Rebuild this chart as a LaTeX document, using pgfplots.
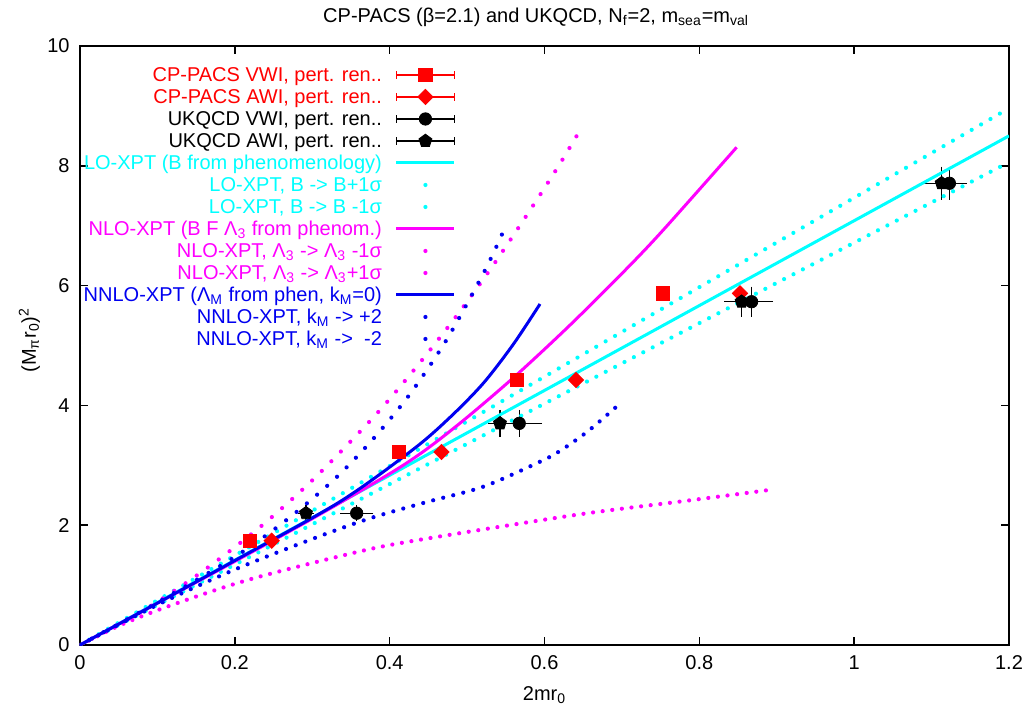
\documentclass[border=0pt]{standalone}
\usepackage{fontspec}
\setmainfont{Liberation Sans}
\usepackage{pgfplots}
\pgfplotsset{compat=1.18}
\usetikzlibrary{plotmarks}
\definecolor{gpred}{RGB}{255,0,0}
\definecolor{gpcyan}{RGB}{0,255,255}
\definecolor{gpmag}{RGB}{255,0,255}
\definecolor{gpblue}{RGB}{0,0,240}
\pgfplotsset{
  errleg/.style={legend image code/.code={
      \draw[line width=0.6pt] (0cm,0cm) -- (1.02cm,0cm) (0cm,-2pt) -- (0cm,2pt) (1.02cm,-2pt) -- (1.02cm,2pt);
      \draw[mark repeat=1] plot coordinates {(0.51cm,0cm)};}},
  lineleg/.style={legend image code/.code={\draw (0cm,0cm) -- (1.02cm,0cm);}},
  dotleg/.style={legend image code/.code={\path[draw=none] (0cm,0cm) -- (1.02cm,0cm); \fill[solid, draw=none] (0.51cm,0cm) circle (1.05pt);}},
  dots/.style={line width=2.1pt, line cap=round, dash pattern=on 0pt off #1, smooth, dotleg},
  solidcurve/.style={line width=1.5pt, smooth, lineleg},
}
\begin{document}
\begin{tikzpicture}
\begin{axis}[
  name=ax, at={(0,0)}, anchor=south west,
  scale only axis, width=464.5pt, height=299.5pt,
  xmin=0, xmax=1.2, ymin=0, ymax=10,
  xtick={0,0.2,0.4,0.6,0.8,1,1.2}, ytick={0,2,4,6,8,10},
  tick align=inside, major tick length=4pt,
  every tick/.style={black, line width=0.8pt},
  axis line style={line width=0.8pt},
  /pgf/number format/assume math mode=true,
  tick label style={font=\fontsize{10}{12}\selectfont},
  xticklabel style={yshift=-1.7pt},
  yticklabel style={xshift=-1.7pt},
  title={CP-PACS (β=2.1) and UKQCD, N\textsubscript{f}=2, m\textsubscript{sea}=m\textsubscript{val}},
  title style={font=\fontsize{10}{12}\selectfont, at={(0.491,1)}, anchor=base, yshift=6pt},
  xlabel={2mr\textsubscript{0}},
  xlabel style={font=\fontsize{10}{12}\selectfont, at={(0.5,0)}, anchor=base, yshift=-27.5pt},
  ylabel={(M\textsubscript{π}r\textsubscript{0})\textsuperscript{2}},
  ylabel style={font=\fontsize{10}{12}\selectfont, at={(-0.0474,0.509)}, anchor=base},
  legend plot pos=right, legend cell align=right,
  legend style={at={(0.4047,0.970)}, anchor=north east, draw=none, fill=none,
    inner sep=0pt, outer sep=0pt, row sep=0pt,
    font=\fontsize{10}{12}\selectfont,
    nodes={inner sep=0pt, text height=9pt, text depth=2pt},
    /tikz/every odd column/.append style={column sep=6.5pt}},
  error bars/error bar style={line width=0.7pt},
  error bars/error mark options={line width=0.7pt, mark size=2.5pt},
]
% data
\addplot[only marks, gpred, mark=square*, mark size=3.3pt, mark options={solid}, errleg]
  coordinates {(0.2196,1.741) (0.4124,3.222) (0.5640,4.424) (0.7526,5.870)};
\addlegendentry{\textcolor{gpred}{CP-PACS VWI, pert. ren..}}
\addplot[only marks, gpred, mark=square*, mark size=2.7pt, mark options={solid, rotate=45}, errleg]
  coordinates {(0.2476,1.741) (0.4670,3.222) (0.6407,4.424) (0.8525,5.870)};
\addlegendentry{\textcolor{gpred}{CP-PACS AWI, pert. ren..}}
\addplot[only marks, black, mark=*, mark size=3.1pt, mark options={solid}, errleg,
  error bars/.cd, x dir=both, x explicit, y dir=both, y explicit]
  coordinates {(0.3574,2.200) +- (0.015,0.05) (0.5674,3.700) +- (0.023,0.14)
               (0.8675,5.731) +- (0.0215,0.17) (1.1230,7.708) +- (0.016,0.195)};
\addlegendentry{UKQCD VWI, pert. ren..}
\addplot[only marks, black, mark=pentagon*, mark size=3.4pt, mark options={solid}, errleg,
  error bars/.cd, x dir=both, x explicit, y dir=both, y explicit]
  coordinates {(0.2919,2.200) +- (0.004,0.05) (0.5425,3.700) +- (0.009,0.14)
               (0.8546,5.731) +- (0.016,0.17) (1.1130,7.708) +- (0.020,0.195)};
\addlegendentry{UKQCD AWI, pert. ren..}
% LO
\addplot[gpcyan, solidcurve] coordinates {(0,0) (1.2,8.50)};
\addlegendentry{\textcolor{gpcyan}{LO-XPT (B from phenomenology)}}
\addplot[gpcyan, dots=5.42pt] coordinates {(0,0) (1.2,8.96)};
\addlegendentry{\textcolor{gpcyan}{LO-XPT, B -> B+1σ}}
\addplot[gpcyan, dots=5.29pt] coordinates {(0,0) (1.2,8.06)};
\addlegendentry{\textcolor{gpcyan}{LO-XPT, B -> B -1σ}}
% NLO
\addplot[gpmag, solidcurve] coordinates {(0,0) (0.1,0.698) (0.2,1.396) (0.3,2.109) (0.4,2.86)
  (0.4478,3.27) (0.5,3.80) (0.564,4.51) (0.6329,5.34) (0.7052,6.27) (0.7535,6.93) (0.8482,8.309)};
\addlegendentry{\textcolor{gpmag}{NLO-XPT (B F Λ\textsubscript{3} from phenom.)}}
\addplot[gpmag, dots=6.8pt] coordinates {(0,0) (0.0861,0.607) (0.1589,1.235) (0.2316,1.958)
  (0.2923,2.654) (0.3401,3.272) (0.3884,3.935) (0.4370,4.680) (0.4857,5.482) (0.5339,6.344)
  (0.5821,7.274) (0.6187,8.008) (0.6428,8.526)};
\addlegendentry{\textcolor{gpmag}{NLO-XPT, Λ\textsubscript{3} -> Λ\textsubscript{3} -1σ}}
\addplot[gpmag, dots=4.84pt] coordinates {(0,0) (0.05,0.32) (0.1,0.58) (0.1709,0.90) (0.2316,1.14)
  (0.3285,1.46) (0.4004,1.67) (0.5209,1.93) (0.6553,2.20) (0.7883,2.416) (0.8973,2.60)};
\addlegendentry{\textcolor{gpmag}{NLO-XPT, Λ\textsubscript{3} -> Λ\textsubscript{3}+1σ}}
% NNLO
\addplot[gpblue, solidcurve] coordinates {(0,0) (0.1,0.70) (0.2,1.41) (0.3358,2.393) (0.4305,3.267)
  (0.4779,3.80) (0.5209,4.369) (0.5597,5.02) (0.5942,5.693)};
\addlegendentry{\textcolor{gpblue}{NNLO-XPT (Λ\textsubscript{M} from phen, k\textsubscript{M}=0)}}
\addplot[gpblue, dots=6.7pt] coordinates {(0,0) (0.1,0.71) (0.2,1.47) (0.2678,2.098) (0.3285,2.766)
  (0.3763,3.406) (0.4250,4.168) (0.4736,5.097) (0.5218,6.222) (0.5455,6.867)};
\addlegendentry{\textcolor{gpblue}{NNLO-XPT, k\textsubscript{M} -> +2}}
\addplot[gpblue, dots=5.17pt] coordinates {(0,0) (0.1,0.67) (0.2,1.26) (0.3,1.77) (0.3746,2.115)
  (0.4478,2.387) (0.5209,2.643) (0.5942,3.06) (0.62,3.24) (0.6553,3.561) (0.6915,3.962)};
\addlegendentry{\textcolor{gpblue}{NNLO-XPT, k\textsubscript{M} ->\ \ -2}}
\end{axis}
\pgfresetboundingbox
\path[use as bounding box] ([xshift=-40pt,yshift=-32pt]ax.south west) rectangle ([xshift=7.5pt,yshift=23pt]ax.north east);
\end{tikzpicture}
\end{document}
